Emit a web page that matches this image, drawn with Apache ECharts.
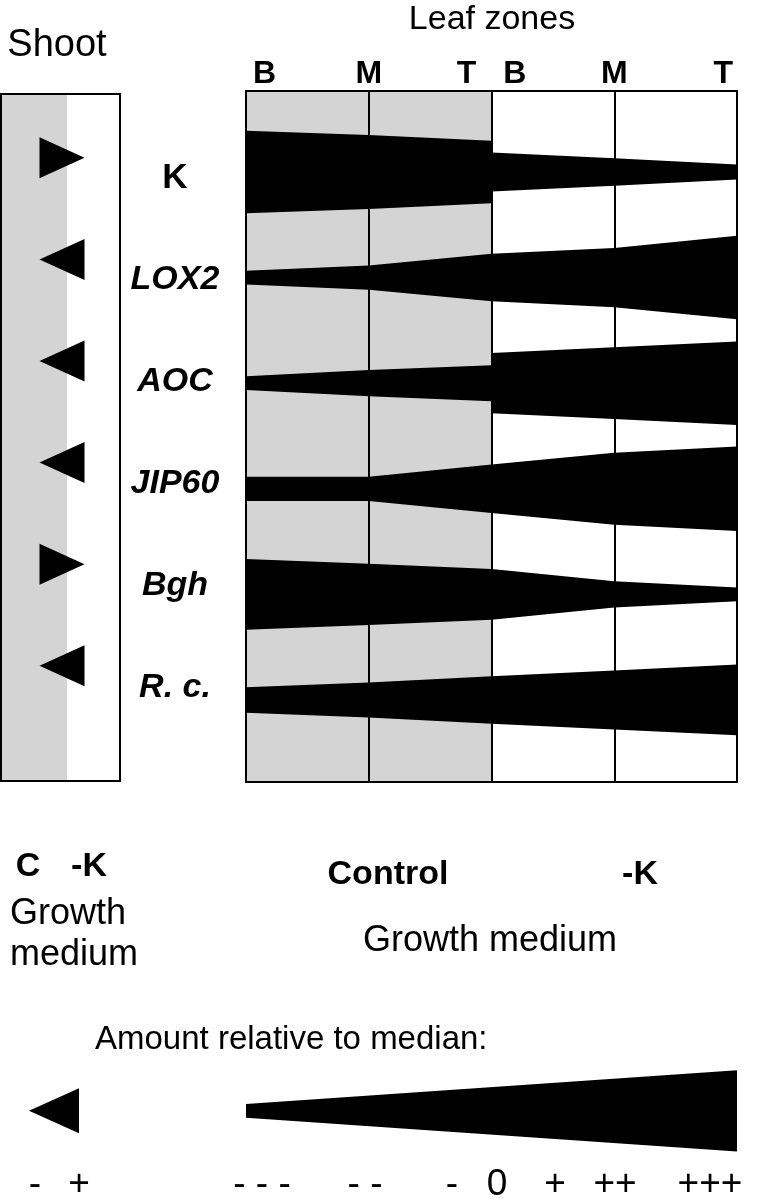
<!DOCTYPE html>
<html>
<head>
<meta charset="utf-8">
<script src="https://cdn.jsdelivr.net/npm/echarts@6/dist/echarts.min.js"></script>
<style>
html,body{margin:0;padding:0;background:#fff;}
#chart{width:769px;height:1204px;}
</style>
</head>
<body>
<div id="chart"></div>
<script>
// ---------------- data ----------------
const rowNames = ['K', 'LOX2', 'AOC', 'JIP60', 'Bgh', 'R. c.'];
const zoneLabels = ['B', 'M', 'T', 'B', 'M', 'T'];
// band thickness (percent of row spacing) at leaf zones B, M, T
const controlB = [78, 13, 13, 23, 67, 24];
const controlM = [70, 23, 25, 23, 58, 33];
const controlT = [59, 45, 34, 46, 48, 45];
const minusKB  = [37, 45, 57, 46, 48, 45];
const minusKM  = [26, 56, 68, 68, 25, 56];
const minusKT  = [14, 79, 79, 80, 13, 67];
// shoot: +1 = higher in -K (arrow right), -1 = lower (arrow left)
const shootDir = [1, -1, -1, -1, 1, -1];
// legend wedge thickness at low / high end
const legendWedge = [13, 77];
const scaleLabels = ['- - -', '- -', '-', '0', '+', '++', '+++'];
const shootScaleLabels = ['-', '+'];

const FONT = '"Liberation Sans", Arial, Helvetica, sans-serif';

const bandData = rowNames.map((n, i) => [i, controlB[i], controlM[i], controlT[i], minusKB[i], minusKM[i], minusKT[i]]);

function bandRender(params, api) {
  const row = api.value(0);
  const unit = api.size([0, 1])[1] / 100;
  const xs = [0, 1, 2, 2, 3, 4];
  const ws = [api.value(1), api.value(2), api.value(3), api.value(4), api.value(5), api.value(6)];
  const top = [], bot = [];
  xs.forEach((x, k) => {
    const p = api.coord([x, row]);
    top.push([p[0], p[1] - ws[k] * unit / 2]);
    bot.push([p[0], p[1] + ws[k] * unit / 2]);
  });
  return { type: 'polygon', shape: { points: top.concat(bot.reverse()) }, style: { fill: '#000' } };
}

function wedgeRender(params, api) {
  const unit = api.size([0, 1])[1] / 100;
  const a = api.coord([0, 0.5]);
  const b = api.coord([4, 0.5]);
  const w0 = legendWedge[0] * unit / 2, w1 = legendWedge[1] * unit / 2;
  return { type: 'polygon', shape: { points: [[a[0], a[1] - w0], [b[0], b[1] - w1], [b[0], b[1] + w1], [a[0], a[1] + w0]] }, style: { fill: '#000' } };
}

const zoneTick = {
  0: '{p7|}{z|' + zoneLabels[0] + '}',
  1: '{z|' + zoneLabels[1] + '}',
  2: '{z|' + zoneLabels[2] + '}{gap|}{z|' + zoneLabels[3] + '}',
  3: '{z|' + zoneLabels[4] + '}',
  4: '{z|' + zoneLabels[5] + '}{p4|}'
};

const hidden = { show: false };
const blackLine = { show: true, onZero: false, lineStyle: { color: '#000', width: 2 } };

const scalePos = [262, 365, 452, 497, 555, 615, 710];
const shootScalePos = [35, 79];

function txt(t, x, y, size, bold, align) {
  return { type: 'text', x: x, y: y, style: { text: t, font: (bold ? 'bold ' : '') + size + 'px ' + FONT, fill: '#000', textAlign: align || 'center', textVerticalAlign: 'middle' } };
}

const graphics = [
  txt('Shoot', 57, 46, 38, false),
  txt('Leaf zones', 492, 20, 34, false),
  txt('C', 28, 867, 34, true),
  txt('-K', 89, 867, 34, true),
  txt('Growth', 10, 914, 36, false, 'left'),
  txt('medium', 10, 955, 36, false, 'left'),
  txt('Control', 388, 875, 34, true),
  txt('-K', 640, 875, 34, true),
  txt('Growth medium', 490, 941, 36, false),
  txt('Amount relative to median:', 95, 1040, 33, false, 'left')
];
scaleLabels.forEach((t, i) => graphics.push(txt(t, scalePos[i], 1185, 37, false)));
shootScaleLabels.forEach((t, i) => graphics.push(txt(t, shootScalePos[i], 1185, 37, false)));

const option = {
  animation: false,
  backgroundColor: '#fff',
  textStyle: { fontFamily: FONT },
  grid: [
    { left: 246, right: 32, top: 91, bottom: 422 },            // 0 leaf zones frame + bands
    { left: 246, right: 32, top: 127, height: 612 },           // 1 row labels
    { left: 1, width: 119, top: 94, height: 687 },             // 2 shoot
    { left: 1, width: 119, top: 1058, height: 105.6 },         // 3 legend triangle
    { left: 246, right: 32, top: 1058, height: 105.6 }         // 4 legend wedge
  ],
  xAxis: [
    { gridIndex: 0, type: 'value', min: 0, max: 4, interval: 1, position: 'top',
      axisLine: blackLine, axisTick: hidden,
      axisLabel: { show: true, margin: 1, alignMinLabel: 'left', alignMaxLabel: 'right',
        formatter: v => zoneTick[v] || '',
        rich: { z: { fontSize: 32, fontWeight: 'bold', color: '#000', fontFamily: FONT },
                p7: { width: 7 }, p4: { width: 4 }, gap: { width: 27 } } },
      splitLine: { show: true, lineStyle: { color: '#000', width: 2 } },
      splitArea: { show: true, areaStyle: { color: ['#d4d4d4', '#d4d4d4', '#ffffff', '#ffffff'] } } },
    { gridIndex: 0, type: 'value', min: 0, max: 4, position: 'bottom', axisLine: blackLine, axisTick: hidden, axisLabel: hidden, splitLine: hidden },
    { gridIndex: 1, type: 'value', min: 0, max: 4, show: false },
    { gridIndex: 2, type: 'value', min: 0, max: 119, interval: 66, position: 'top',
      axisLine: blackLine, axisTick: hidden, axisLabel: hidden, splitLine: hidden,
      splitArea: { show: true, areaStyle: { color: ['#d4d4d4', '#ffffff'] } } },
    { gridIndex: 2, type: 'value', min: 0, max: 119, position: 'bottom', axisLine: blackLine, axisTick: hidden, axisLabel: hidden, splitLine: hidden },
    { gridIndex: 3, type: 'value', min: 0, max: 119, show: false },
    { gridIndex: 4, type: 'value', min: 0, max: 4, show: false }
  ],
  yAxis: [
    { gridIndex: 0, type: 'value', min: -0.767, max: 5.777, inverse: true, position: 'left', axisLine: blackLine, axisTick: hidden, axisLabel: hidden, splitLine: hidden },
    { gridIndex: 0, type: 'value', min: -0.767, max: 5.777, inverse: true, position: 'right', axisLine: blackLine, axisTick: hidden, axisLabel: hidden, splitLine: hidden },
    { gridIndex: 1, type: 'category', data: rowNames, inverse: true, position: 'left',
      axisLine: hidden, axisTick: hidden, splitLine: hidden,
      axisLabel: { show: true, margin: 71, align: 'center',
        formatter: v => v === 'K' ? '{n|' + v + '}' : '{i|' + v + '}',
        rich: { n: { fontSize: 35, fontWeight: 'bold', color: '#000', fontFamily: FONT },
                i: { fontSize: 34, fontWeight: 'bold', fontStyle: 'italic', color: '#000', fontFamily: FONT } } } },
    { gridIndex: 2, type: 'value', min: -0.628, max: 6.134, inverse: true, position: 'left', axisLine: blackLine, axisTick: hidden, axisLabel: hidden, splitLine: hidden },
    { gridIndex: 2, type: 'value', min: -0.628, max: 6.134, inverse: true, position: 'right', axisLine: blackLine, axisTick: hidden, axisLabel: hidden, splitLine: hidden },
    { gridIndex: 3, type: 'value', min: 0, max: 1, show: false },
    { gridIndex: 4, type: 'value', min: 0, max: 1, inverse: true, show: false }
  ],
  series: [
    { type: 'custom', name: 'bands', xAxisIndex: 0, yAxisIndex: 0, renderItem: bandRender, data: bandData, z: 5 },
    { type: 'scatter', name: 'shoot', xAxisIndex: 3, yAxisIndex: 3, symbol: 'triangle', symbolSize: [41, 45],
      itemStyle: { color: '#000', opacity: 1 }, z: 5,
      data: shootDir.map((d, i) => ({ value: [61, i], symbolRotate: d > 0 ? -90 : 90 })) },
    { type: 'scatter', name: 'legendArrow', xAxisIndex: 5, yAxisIndex: 5, symbol: 'triangle', symbolSize: [45, 50],
      itemStyle: { color: '#000', opacity: 1 }, data: [{ value: [53, 0.5], symbolRotate: 90 }] },
    { type: 'custom', name: 'legendWedge', xAxisIndex: 6, yAxisIndex: 6, renderItem: wedgeRender, data: [[0, 0.5]] }
  ],
  graphic: graphics
};

const chart = echarts.init(document.getElementById('chart'), null, { renderer: 'canvas' });
chart.setOption(option);
</script>
</body>
</html>
